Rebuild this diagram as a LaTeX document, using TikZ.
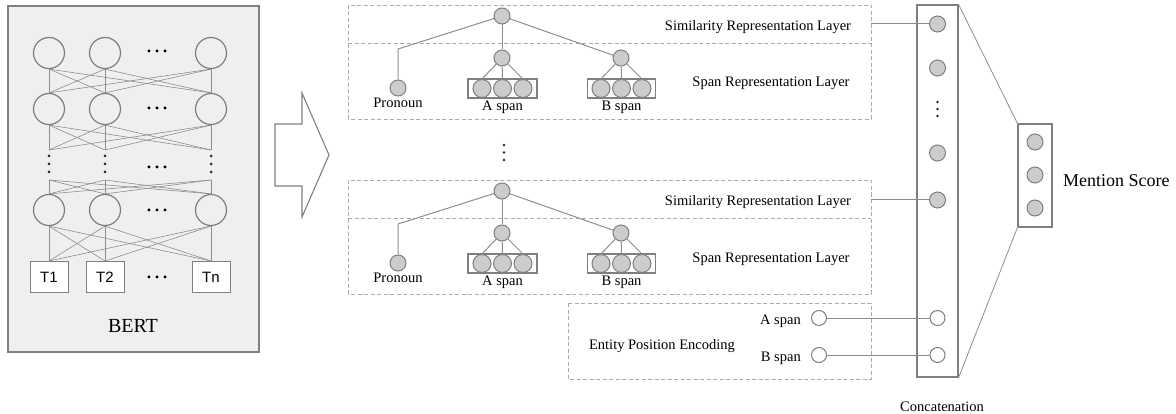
\documentclass[tikz,border=0pt]{standalone}
\usepackage{fontspec}
\setmainfont{Liberation Serif}
\newfontfamily\tfont{Liberation Sans}
\definecolor{bgray}{HTML}{7F7F7F}
\definecolor{lgray}{HTML}{8E8E8E}
\definecolor{dgray}{HTML}{ABABAB}
\definecolor{nfill}{HTML}{CCCCCC}
\definecolor{bertbg}{HTML}{EFEFEF}
\tikzset{
  bc/.style={circle, draw=bgray, line width=1.2pt, minimum size=31pt, inner sep=0pt},
  tb/.style={rectangle, draw=bgray, line width=1pt, fill=white, minimum width=38pt, minimum height=31pt, inner sep=0pt, font=\tfont\fontsize{15}{18}\selectfont},
  bl/.style={draw=lgray, line width=0.6pt},
  pn/.style={circle, draw=bgray, fill=nfill, line width=1pt, minimum size=16pt, inner sep=0pt},
  sn/.style={circle, draw=bgray, fill=nfill, line width=1pt, minimum size=18pt, inner sep=0pt},
  oc/.style={circle, draw=bgray, fill=white, line width=1pt, minimum size=15pt, inner sep=0pt},
  sbox/.style={rectangle, draw=bgray, line width=1.4pt, minimum height=19pt, inner sep=0pt},
  tl/.style={draw=lgray, line width=1pt},
  dbox/.style={draw=dgray, line width=0.9pt, dash pattern=on 4pt off 2.5pt},
  lbl/.style={font=\fontsize{14.5}{17}\selectfont, inner sep=0pt},
  hd/.style={font=\fontsize{24}{30}\selectfont, inner sep=0pt, anchor=base},
  dotc/.style={fill=black!85},
}
\begin{document}
\begin{tikzpicture}[x=1pt,y=-1pt]
\useasboundingbox (0,0) rectangle (1176,414);
% ---------------- BERT ----------------
\draw[draw=bgray, fill=bertbg, line width=1.4pt] (8,6) rectangle (259,352);
\foreach \i/\x in {1/49,2/105,3/211}{
  \node[bc] (a\i) at (\x,53) {};
  \node[bc] (b\i) at (\x,109) {};
  \node[bc] (c\i) at (\x,210) {};
  \coordinate (du\i) at (\x,150);
  \coordinate (dl\i) at (\x,180);
  \foreach \yy in {156,164,172}{\fill[dotc] (\x,\yy) circle (1.5);}
}
\node[tb] (t1) at (49,277) {T1};
\node[tb] (t2) at (105,277) {T2};
\node[tb] (t3) at (211,277) {Tn};
\foreach \i in {1,2,3}{\foreach \j in {1,2,3}{
  \draw[bl] (a\i.south) -- (b\j.north);
  \draw[bl] (b\i.south) -- (du\j);
  \draw[bl] (dl\i) -- (c\j.north);
  \draw[bl] (c\i.south) -- (t\j.north);
}}
\node[hd] (h1) at (157,52.5) {…};
\node[hd] (h2) at (157,109.5) {…};
\node[hd] (h3) at (157,168.5) {…};
\node[hd] (h4) at (157,211.5) {…};
\node[hd] (h5) at (157,278.5) {…};
\node[font=\fontsize{20}{24}\selectfont, inner sep=0pt, anchor=base] (bert) at (133,332) {BERT};
% ---------------- arrow ----------------
\draw[draw=bgray, line width=1.1pt, line join=miter] (275,124) -- (302,124) -- (302,93) -- (329,155) -- (302,217) -- (302,186) -- (275,186) -- cycle;
% ---------------- panels ----------------
\foreach \o/\p in {0/1,175/2}{
  \draw[dbox] (348,5+\o) rectangle (871,119+\o);
  \draw[dbox] (348,43+\o) -- (871,43+\o);
  \node[pn] (top\p) at (502,16+\o) {};
  \node[pn] (an\p) at (502,58+\o) {};
  \node[pn] (bn\p) at (621,58+\o) {};
  \node[pn] (pr\p) at (398,88+\o) {};
  \coordinate (pc\p) at (398,49+\o);
  \node[sbox, minimum width=69pt] (abox\p) at (502.5,88.5+\o) {};
  \node[sbox, minimum width=68pt] (bbox\p) at (621.5,88.5+\o) {};
  \node[sn] (aa\p) at (482,88.5+\o) {};
  \node[sn] (ab\p) at (502.5,88.5+\o) {};
  \node[sn] (ac\p) at (523,88.5+\o) {};
  \node[sn] (ba\p) at (601,88.5+\o) {};
  \node[sn] (bb\p) at (621.5,88.5+\o) {};
  \node[sn] (bc\p) at (642,88.5+\o) {};
  \draw[tl] (top\p) -- (pc\p) -- (pr\p);
  \draw[tl] (top\p) -- (an\p);
  \draw[tl] (top\p) -- (bn\p);
  \draw[tl] (an\p) -- (aa\p.north);
  \draw[tl] (an\p) -- (ab\p.north);
  \draw[tl] (an\p) -- (ac\p.north);
  \draw[tl] (bn\p) -- (ba\p.north);
  \draw[tl] (bn\p) -- (bb\p.north);
  \draw[tl] (bn\p) -- (bc\p.north);
  \node[lbl, anchor=base] (pl\p) at (398,107.5+\o) {Pronoun};
  \node[lbl, anchor=base] (al\p) at (502.5,111+\o) {A span};
  \node[lbl, anchor=base] (bl\p) at (621.5,111+\o) {B span};
  \node[lbl, anchor=base] (sim\p) at (758,30.5+\o) {Similarity Representation Layer};
  \node[lbl, anchor=base] (spn\p) at (771,87+\o) {Span Representation Layer};
}
\foreach \yy in {145,152.5,160}{\fill[dotc] (504,\yy) circle (1.3);}
% ---------------- entity position encoding ----------------
\draw[dbox] (568,303) rectangle (871,379);
\node[lbl, anchor=base] (epe) at (662,349) {Entity Position Encoding};
\node[lbl, anchor=base east] (eal) at (801,324.5) {A span};
\node[lbl, anchor=base east] (ebl) at (801,361.5) {B span};
\node[oc] (ea) at (819,318) {};
\node[oc] (eb) at (819,355) {};
% ---------------- concatenation ----------------
\node[rectangle, draw=bgray, line width=1.2pt, minimum width=41pt, minimum height=372pt, inner sep=0pt] (cat) at (937.5,191) {};
\node[pn] (k1) at (937.5,24) {};
\node[pn] (k2) at (937.5,68) {};
\foreach \yy in {102,109,116}{\fill[dotc] (937.5,\yy) circle (1.3);}
\node[pn] (k3) at (937.5,153) {};
\node[pn] (k4) at (937.5,200) {};
\node[oc] (k5) at (937.5,318) {};
\node[oc] (k6) at (937.5,355) {};
\coordinate (pe1) at (871,24);
\coordinate (pe2) at (871,200);
\draw[tl] (pe1) -- (k1);
\draw[tl] (pe2) -- (k4);
\draw[tl] (ea) -- (k5);
\draw[tl] (eb) -- (k6);
\node[lbl, anchor=base west] (catl) at (900,411.5) {Concatenation};
% ---------------- mention score ----------------
\node[rectangle, draw=bgray, line width=1.2pt, minimum width=34pt, minimum height=103pt, inner sep=0pt] (ms) at (1035,175.5) {};
\node[pn] (m1) at (1035,142) {};
\node[pn] (m2) at (1035,175) {};
\node[pn] (m3) at (1035,208) {};
\draw[bl, line width=0.8pt] (cat.north east) -- (ms.north west);
\draw[bl, line width=0.8pt] (cat.south east) -- (ms.south west);
\node[font=\fontsize{18}{22}\selectfont, inner sep=0pt, anchor=base west] (msl) at (1063,186.5) {Mention Score};
\end{tikzpicture}
\end{document}
